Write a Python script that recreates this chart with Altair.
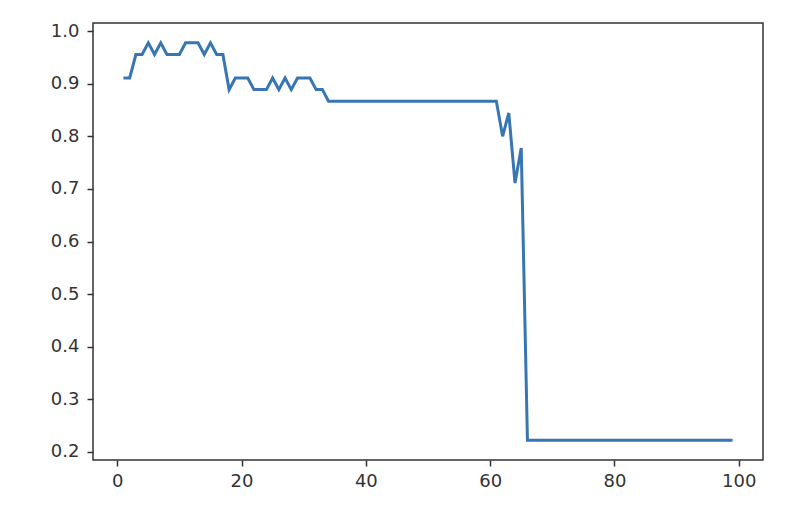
import altair as alt
import pandas as pd

k_values = list(range(1, 100))
accuracy = [
    0.9111, 0.9111, 0.9556, 0.9556, 0.9778, 0.9556, 0.9778, 0.9556, 0.9556, 0.9556,
    0.9778, 0.9778, 0.9778, 0.9556, 0.9778, 0.9556, 0.9556, 0.8889, 0.9111, 0.9111,
    0.9111, 0.8889, 0.8889, 0.8889, 0.9111, 0.8889, 0.9111, 0.8889, 0.9111, 0.9111,
    0.9111, 0.8889, 0.8889, 0.8667, 0.8667, 0.8667, 0.8667, 0.8667, 0.8667, 0.8667,
    0.8667, 0.8667, 0.8667, 0.8667, 0.8667, 0.8667, 0.8667, 0.8667, 0.8667, 0.8667,
    0.8667, 0.8667, 0.8667, 0.8667, 0.8667, 0.8667, 0.8667, 0.8667, 0.8667, 0.8667,
    0.8667, 0.8000, 0.8444, 0.7111, 0.7778, 0.2222, 0.2222, 0.2222, 0.2222, 0.2222,
    0.2222, 0.2222, 0.2222, 0.2222, 0.2222, 0.2222, 0.2222, 0.2222, 0.2222, 0.2222,
    0.2222, 0.2222, 0.2222, 0.2222, 0.2222, 0.2222, 0.2222, 0.2222, 0.2222, 0.2222,
    0.2222, 0.2222, 0.2222, 0.2222, 0.2222, 0.2222, 0.2222, 0.2222, 0.2222,
]
x_ticks = [0, 20, 40, 60, 80, 100]
y_ticks = [0.2, 0.3, 0.4, 0.5, 0.6, 0.7, 0.8, 0.9, 1.0]

df = pd.DataFrame({"k": k_values, "acc": accuracy})

axis_common = dict(
    domain=False,
    grid=False,
    ticks=True,
    tickSize=6,
    tickWidth=1.5,
    tickColor="#333333",
    labelFont="DejaVu Sans",
    labelFontSize=18,
    labelColor="#333333",
    title=None,
)

chart = (
    alt.Chart(df)
    .mark_line(color="#3776b3", strokeWidth=3, interpolate="linear")
    .encode(
        x=alt.X(
            "k:Q",
            scale=alt.Scale(domain=[-3.9, 103.9], nice=False, zero=False),
            axis=alt.Axis(values=x_ticks, format="d", labelPadding=6, **axis_common),
        ),
        y=alt.Y(
            "acc:Q",
            scale=alt.Scale(domain=[0.1844, 1.0156], nice=False, zero=False),
            axis=alt.Axis(values=y_ticks, format=".1f", labelPadding=8, **axis_common),
        ),
    )
    .properties(
        width=670,
        height=437,
        autosize=alt.AutoSizeParams(type="none"),
        padding={"left": 85, "top": 15, "right": 30, "bottom": 50},
    )
    .configure(background="white")
    .configure_view(stroke="#333333", strokeWidth=1.5)
)

chart.save("out.html", embed_options={"renderer": "svg", "actions": False})
